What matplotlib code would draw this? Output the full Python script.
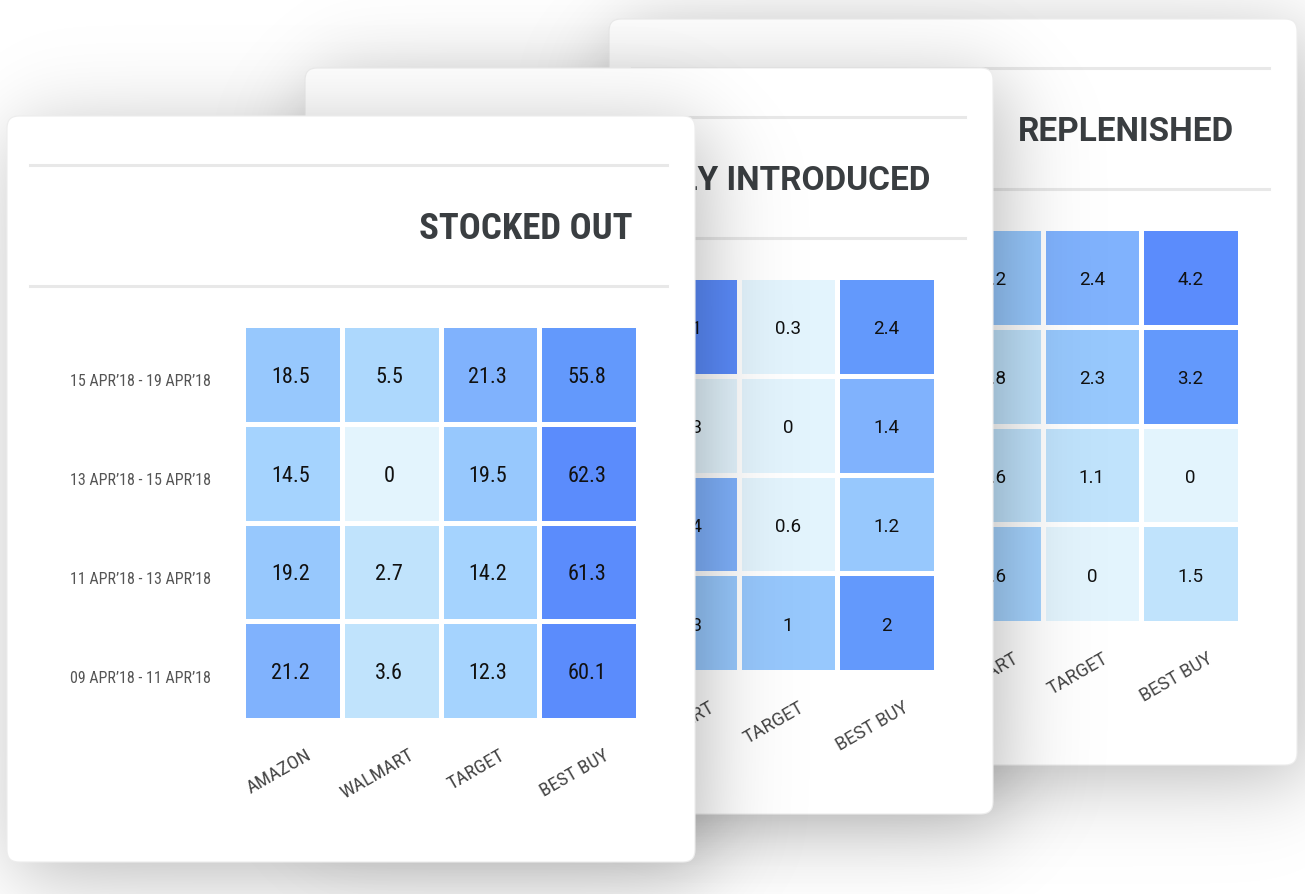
import numpy as np
import matplotlib
matplotlib.use('Agg')
import matplotlib.pyplot as plt
from matplotlib.colors import ListedColormap, BoundaryNorm
from matplotlib.patches import FancyBboxPatch

W, H = 1305, 894          # output size in px
CW, CH = 688, 746         # card size in px

retailers = ['AMAZON', 'WALMART', 'TARGET', 'BEST BUY']
periods = ['15 APR\u201918 - 19 APR\u201918', '13 APR\u201918 - 15 APR\u201918',
           '11 APR\u201918 - 13 APR\u201918', '09 APR\u201918 - 11 APR\u201918']

# rows = periods, columns = retailers
stocked_out = [[18.5, 5.5, 21.3, 55.8],
               [14.5, 0, 19.5, 62.3],
               [19.2, 2.7, 14.2, 61.3],
               [21.2, 3.6, 12.3, 60.1]]
newly_introduced = [[2.8, 3.1, 0.3, 2.4],
                    [1.6, 0.3, 0, 1.4],
                    [0.9, 1.4, 0.6, 1.2],
                    [2.2, 1.3, 1, 2]]
replenished = [[1.9, 2.2, 2.4, 4.2],
               [1.2, 0.8, 2.3, 3.2],
               [0.4, 0.6, 1.1, 0],
               [2.6, 1.6, 0, 1.5]]

# binned colour scale, one set of bins per card
palette = ['#e3f4fd', '#c0e3fc', '#add8fd', '#a5d3fe',
           '#97c8fd', '#80b2fd', '#6399fc', '#5b8cfc']
bins_stocked = [0, 1, 5, 10, 17, 21, 50, 60, 70]
bins_newly = [0, 0.9, 0.95, 0.98, 1.0, 1.35, 1.9, 2.9, 4]
bins_repl = [0, 0.5, 1.55, 1.58, 2.0, 2.35, 3.0, 3.5, 5]

cmap = ListedColormap(palette)

fig = plt.figure(figsize=(W / 100, H / 100), dpi=100, facecolor='white')


def frac(left, top, w, h):
    return [left / W, 1 - (top + h) / H, w / W, h / H]


def phi(t):
    # smooth step, close to the normal cdf
    return 1.0 / (1.0 + np.exp(-1.702 * t))


def shadow(left, top, z, dx=10, dy=14, sigma=42, strength=0.28):
    xs = np.arange(W) + 0.5
    ys = np.arange(H) + 0.5
    sx = phi((xs - left - dx) / sigma) - phi((xs - left - dx - CW) / sigma)
    sy = phi((ys - top - dy) / sigma) - phi((ys - top - dy - CH) / sigma)
    rgba = np.zeros((H, W, 4))
    rgba[..., 3] = strength * sy[:, None] * sx[None, :]
    ax = fig.add_axes([0, 0, 1, 1], zorder=z)
    ax.imshow(rgba, extent=(0, W, H, 0), aspect='auto', interpolation='bilinear')
    ax.set_xlim(0, W)
    ax.set_ylim(H, 0)
    ax.axis('off')


def card(left, top, title, values, bins, z, front=False):
    if front:
        fam = ['Roboto Condensed', 'Roboto']
        title_size, num_size, lab_size, row_size = 26.5, 16, 14, 11.5
        stretch = 'condensed'
        shift = -0.02
    else:
        fam = ['Roboto']
        title_size, num_size, lab_size, row_size = 24, 13.5, 13, 9.5
        stretch = 'normal'
        shift = 0.0

    ax = fig.add_axes(frac(left, top, CW, CH), zorder=z)
    ax.set_xlim(0, CW)
    ax.set_ylim(CH, 0)
    ax.axis('off')
    ax.add_patch(FancyBboxPatch((0, 0), CW, CH, boxstyle='round,pad=0,rounding_size=12',
                                fc='white', ec='#ededed', lw=0.8, clip_on=False))
    ax.plot([23, 660], [49, 49], color='#e8e8e8', lw=2.2)
    ax.plot([23, 660], [170, 170], color='#e8e8e8', lw=2.2)
    ax.text(625, 113, title, ha='right', va='center', fontsize=title_size,
            fontweight='bold', color='#3a3e41', family=fam, fontstretch=stretch)

    hm = fig.add_axes(frac(left + 236, top + 209, 395, 395), zorder=z + 0.1)
    data = np.array(values)
    norm = BoundaryNorm(bins, cmap.N)
    hm.pcolormesh(data, cmap=cmap, norm=norm, edgecolors='white', linewidth=2.2)
    hm.set_xlim(0, 4)
    hm.set_ylim(4, 0)
    for i in range(4):
        for j in range(4):
            hm.text(j + 0.5 + shift, i + 0.53, '{:g}'.format(data[i, j]), ha='center',
                    va='center', fontsize=num_size, color='#111111', family=fam,
                    fontstretch=stretch)
    hm.set_xticks(np.arange(4) + 0.36)
    hm.set_xticklabels(retailers, rotation=30, ha='center', fontsize=lab_size,
                       color='#444444', family=fam, fontstretch=stretch)
    hm.set_yticks(np.arange(4) + 0.56)
    hm.set_yticklabels(periods, fontsize=row_size, color='#555555',
                       family=fam, fontstretch=stretch)
    hm.tick_params(axis='x', length=0, pad=19)
    hm.tick_params(axis='y', length=0, pad=23)
    for s in hm.spines.values():
        s.set_visible(False)


# back to front
shadow(609, 19, 0.5)
card(609, 19, 'REPLENISHED', replenished, bins_repl, 1)
shadow(305, 68, 1.5)
card(305, 68, 'NEWLY INTRODUCED', newly_introduced, bins_newly, 2)
shadow(7, 116, 2.5)
card(7, 116, 'STOCKED OUT', stocked_out, bins_stocked, 3, front=True)

fig.savefig('out.png', dpi=100, facecolor='white')
